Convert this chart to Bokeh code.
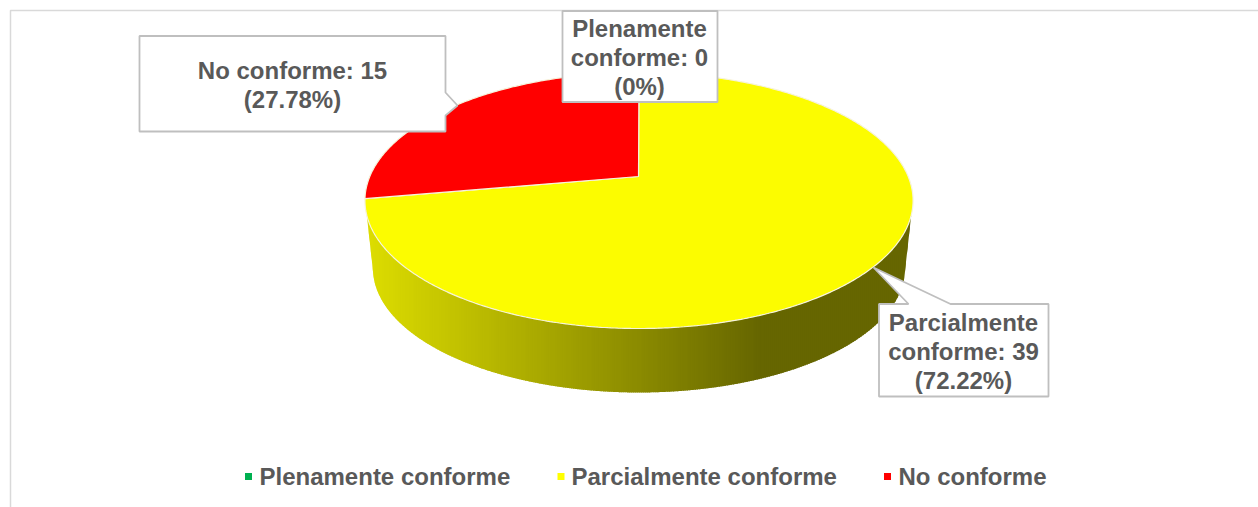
import math
import numpy as np
from bokeh.plotting import figure
from bokeh.models import Range1d
from bokeh.core.properties import value
from bokeh.embed import file_html
from bokeh.resources import INLINE

categories = ["Plenamente conforme", "Parcialmente conforme", "No conforme"]
counts = [0, 39, 15]
percents = ["0%", "72.22%", "27.78%"]
colors = ["#00B050", "#FCFC00", "#FF0000"]
legend_colors = ["#00B050", "#FFFF00", "#FF0000"]

FONT = value("Liberation Sans")
TXT = "#595959"
BOX_LINE = "#BFBFBF"
FRAME = "#D9D9D9"

# perspective pie geometry, page pixels
CX, CY, A, B, K = 638.0, 176.0, 269.2, 123.5, 0.1875
SCALE_L, CY_L = 0.971, 244.4


def top(theta, cy=CY, s=1.0):
    u, v = math.sin(theta), math.cos(theta)
    d = 1 + K * v
    return CX + 0.5 + s * A * u / d, cy - s * B * v / d


p = figure(width=1258, height=507, output_backend="svg", toolbar_location=None,
           x_range=Range1d(0, 1258), y_range=Range1d(507, 0),
           x_axis_location=None, y_axis_location=None, min_border=0,
           outline_line_color=None, background_fill_color="white")
p.grid.visible = False

# chart frame
p.line([10, 10, 1258], [507, 10, 10], line_color=FRAME, line_width=1.5)


def side_color(x):
    # bright at the left, darkening until about x=760, then flat
    t = min(max((x - 370) / (760 - 370), 0), 1)
    c = round(0xDC + (0x66 - 0xDC) * t)
    return "#%02x%02x00" % (c, c)


# side wall: vertical strips between the rim and the lower silhouette
t_up = np.radians(np.linspace(252.7, 107.3, 500))
t_lo = np.radians(np.linspace(258.2, 101.8, 500))
up = np.array([top(t) for t in t_up])
lo = np.array([top(t, CY_L, SCALE_L) for t in t_lo])
lo_x = np.concatenate([[up[0, 0]], lo[:, 0], [up[-1, 0]]])
lo_y = np.concatenate([[up[0, 1]], lo[:, 1], [up[-1, 1]]])
x_left, x_right = up[0, 0], up[-1, 0]
edges = np.append(np.arange(x_left, x_right, 2.0), x_right)
xs, ys, cs = [], [], []
for x0, x1 in zip(edges[:-1], edges[1:]):
    x2 = min(x1 + 1.0, x_right)
    grid = np.linspace(x0, x2, 5)
    yt = np.interp(grid, up[:, 0], up[:, 1])
    yb = np.interp(grid, lo_x, lo_y)
    xs.append(list(grid) + list(grid[::-1]))
    ys.append(list(yt) + list(yb[::-1]))
    cs.append(side_color((x0 + x1) / 2))
p.patches(xs, ys, fill_color=cs, line_color=None)

# top slices, clockwise from twelve o'clock
total = sum(counts)
start = 0.0
for n, col in zip(counts, colors):
    sweep = 2 * math.pi * n / total
    if n:
        steps = max(2, int(sweep / 0.01))
        pts = [top(start + sweep * j / steps) for j in range(steps + 1)]
        px = [CX] + [q[0] for q in pts]
        py = [CY] + [q[1] for q in pts]
        p.patch(px, py, fill_color=col, line_color="#F6F3DC", line_width=1.2)
    start += sweep

# callout labels
boxes = [
    dict(x=[562, 717, 717, 562], y=[10.5, 10.5, 101.5, 101.5],
         lines=["Plenamente", f"conforme: {counts[0]}", f"({percents[0]})"], cx=639, ly=[28, 57, 86]),
    dict(x=[878.5, 908, 873, 950, 1048, 1048, 878.5], y=[303.5, 303.5, 267, 303.5, 303.5, 396, 396],
         lines=["Parcialmente", f"conforme: {counts[1]}", f"({percents[1]})"], cx=963, ly=[322, 351, 380]),
    dict(x=[139, 445, 445, 457, 445, 445, 139], y=[35.5, 35.5, 92, 105, 115, 131, 131],
         lines=[f"No conforme: {counts[2]}", f"({percents[2]})"], cx=292, ly=[70, 99]),
]
for b in boxes:
    p.patch(b["x"], b["y"], fill_color="white", line_color=BOX_LINE, line_width=1.8)
    p.text([b["cx"]] * len(b["lines"]), b["ly"], text=b["lines"], text_font=FONT,
           text_font_size="24px", text_font_style="bold", text_color=TXT,
           text_align="center", text_baseline="middle")

# legend
legend_mark_x = [248, 560.5, 887]
legend_text_x = [259, 571, 898]
p.scatter(legend_mark_x, [476] * 3, marker="square", size=7, fill_color=legend_colors,
          line_color=legend_colors, line_width=0)
p.text(legend_text_x, [476] * 3, text=categories, text_font=FONT, text_font_size="24px",
       text_font_style="bold", text_color=TXT, text_align="left", text_baseline="middle")

open("out.html", "w").write(file_html(p, INLINE))
